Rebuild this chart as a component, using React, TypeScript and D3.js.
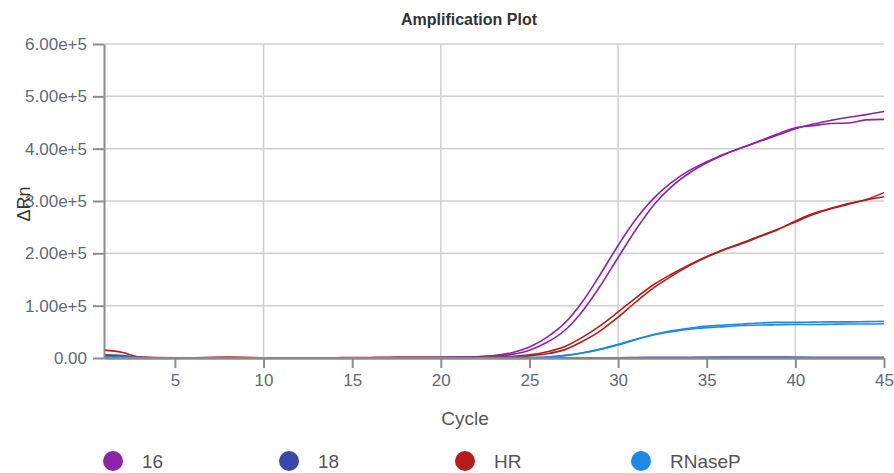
import * as d3 from "d3";
import { useEffect, useRef } from "react";

// cycles on the x axis
const cycles: number[] = [
  1, 2, 3, 4, 5, 6, 7, 8, 9, 10, 11, 12, 13, 14, 15, 16, 17, 18, 19, 20, 21, 22,
  23, 24, 25, 26, 27, 28, 29, 30, 31, 32, 33, 34, 35, 36, 37, 38, 39, 40, 41,
  42, 43, 44, 45,
];

// ΔRn readings, two replicate wells per target
const target16a: number[] = [
  4000, 2500, 800, 500, 400, 400, 300, 300, 300, 400, 400, 500, 500, 500, 600,
  600, 700, 700, 800, 1000, 1500, 2500, 4500, 10000, 21000, 40000, 67000,
  108000, 160000, 215000, 265000, 305000, 335000, 358000, 375000, 390000,
  402000, 414000, 426000, 438000, 447000, 454000, 460000, 465000, 471000,
];
const target16b: number[] = [
  2000, 1500, 600, 400, 300, 300, 300, 300, 400, 400, 400, 400, 500, 500, 500,
  600, 600, 700, 800, 900, 1200, 2000, 3500, 7000, 15000, 30000, 53000, 90000,
  138000, 192000, 245000, 292000, 327000, 353000, 373000, 389000, 402000,
  415000, 428000, 440000, 444000, 448000, 449000, 455000, 456000,
];
const target18a: number[] = [
  5000, 4000, 1000, 600, 500, 500, 400, 400, 500, 500, 600, 600, 600, 500, 500,
  600, 600, 700, 700, 700, 800, 700, 700, 600, 600, 500, 500, 500, 600, 600,
  700, 800, 900, 1000, 1200, 1400, 1500, 1500, 1400, 1200, 1000, 900, 800, 800,
  800,
];
const target18b: number[] = [
  3000, 2500, 800, 500, 400, 400, 400, 300, 400, 400, 500, 500, 500, 400, 400,
  500, 500, 600, 600, 600, 700, 600, 600, 500, 500, 400, 400, 400, 500, 500,
  600, 700, 800, 900, 1000, 1200, 1300, 1300, 1200, 1000, 900, 800, 700, 700,
  700,
];
const hrA: number[] = [
  15000, 11000, 2000, 800, 600, 600, 900, 1500, 800, 500, 500, 600, 600, 600,
  700, 700, 700, 800, 800, 900, 1000, 1200, 1800, 3000, 6000, 12000, 22000,
  40000, 62000, 88000, 115000, 140000, 160000, 178000, 194000, 208000, 220000,
  233000, 246000, 260000, 274000, 285000, 294000, 303000, 316000,
];
const hrB: number[] = [
  6000, 4500, 1200, 600, 500, 500, 700, 1200, 700, 500, 500, 500, 500, 600, 600,
  600, 700, 700, 700, 800, 900, 1000, 1400, 2200, 4000, 8000, 16000, 32000,
  52000, 78000, 107000, 134000, 156000, 176000, 193000, 207000, 219000, 232000,
  245000, 262000, 276000, 286000, 295000, 302000, 308000,
];
const rnasePA: number[] = [
  3000, 2500, 800, 500, 400, 400, 400, 400, 500, 600, 600, 600, 600, 600, 600,
  600, 600, 600, 600, 600, 700, 700, 700, 800, 1000, 2000, 5000, 10000, 17000,
  26000, 36000, 45000, 52000, 57000, 61000, 63000, 65000, 67000, 68000, 68000,
  68500, 69000, 69000, 69500, 70000,
];
const rnasePB: number[] = [
  2000, 1500, 600, 400, 300, 300, 300, 300, 400, 500, 500, 500, 500, 500, 500,
  500, 500, 500, 500, 500, 600, 600, 600, 700, 900, 1800, 4500, 9500, 16500,
  25000, 35000, 44000, 50000, 55000, 58000, 60000, 62000, 63000, 63500, 64000,
  64000, 64500, 65000, 65000, 65500,
];

const targets: string[] = ["16", "18", "HR", "RNaseP"];
const colors: string[] = ["#8e24aa", "#3949ab", "#b71c1c", "#1e88e5"];
const replicates: number[][][] = [
  [target16a, target16b],
  [target18a, target18b],
  [hrA, hrB],
  [rnasePA, rnasePB],
];

const yTicks: number[] = [0, 100000, 200000, 300000, 400000, 500000, 600000];
const xTicks: number[] = [5, 10, 15, 20, 25, 30, 35, 40, 45];
const xGrid: number[] = [10, 20, 30, 40];

export default function App() {
  const width = 894;
  const height = 473;
  const marginTop = 44;
  const marginRight = 10;
  const marginBottom = 115;
  const marginLeft = 104;
  const svgRef = useRef(null);

  useEffect(() => {
    document.body.style.margin = "0";
    const svg = d3.select(svgRef.current);
    svg.selectAll("*").remove();

    const x = d3
      .scaleLinear()
      .domain([1, 45])
      .range([marginLeft, width - marginRight]);
    const y = d3
      .scaleLinear()
      .domain([0, 600000])
      .range([height - marginBottom, marginTop]);

    const font = "'Liberation Sans', Arial, sans-serif";

    // grid
    svg
      .append("g")
      .selectAll("line")
      .data(yTicks.filter((d) => d > 0))
      .join("line")
      .attr("x1", marginLeft)
      .attr("x2", width - marginRight)
      .attr("y1", (d) => y(d))
      .attr("y2", (d) => y(d))
      .attr("stroke", "#d0d0d0")
      .attr("stroke-width", 1.5);
    svg
      .append("g")
      .selectAll("line")
      .data(xGrid)
      .join("line")
      .attr("x1", (d) => x(d))
      .attr("x2", (d) => x(d))
      .attr("y1", y(0))
      .attr("y2", y(600000))
      .attr("stroke", "#d0d0d0")
      .attr("stroke-width", 1.5);

    // curves
    const line = d3
      .line<number>()
      .x((_, i) => x(cycles[i]))
      .y((d) => y(d))
      .curve(d3.curveMonotoneX);

    replicates.forEach((wells, k) => {
      svg
        .append("g")
        .selectAll("path")
        .data(wells)
        .join("path")
        .attr("d", (d) => line(d))
        .attr("fill", "none")
        .attr("stroke", colors[k])
        .attr("stroke-width", 1.6);
    });

    // y axis
    const yAxis = svg
      .append("g")
      .attr("transform", `translate(${marginLeft},0)`)
      .call(
        d3
          .axisLeft(y)
          .tickValues(yTicks)
          .tickSize(11)
          .tickSizeOuter(0)
          .tickPadding(6)
          .tickFormat((d) => (d === 0 ? "0.00" : d3.format(".2e")(d as number)))
      );
    yAxis.select(".domain").attr("stroke", "#8c8c8c").attr("stroke-width", 2);
    yAxis.selectAll(".tick line").attr("stroke", "#8c8c8c").attr("stroke-width", 2);
    yAxis
      .selectAll(".tick text")
      .attr("fill", "#5e6a7a")
      .style("font-family", font)
      .style("font-size", "17px");

    // x axis
    const xAxis = svg
      .append("g")
      .attr("transform", `translate(0,${height - marginBottom})`)
      .call(
        d3
          .axisBottom(x)
          .tickValues(xTicks)
          .tickSize(10)
          .tickSizeOuter(0)
          .tickPadding(6)
      );
    xAxis.select(".domain").attr("stroke", "#8c8c8c").attr("stroke-width", 2.5);
    xAxis.selectAll(".tick line").attr("stroke", "#8c8c8c").attr("stroke-width", 2);
    xAxis
      .selectAll(".tick text")
      .attr("fill", "#5e6a7a")
      .style("font-family", font)
      .style("font-size", "17px");

    // title and labels
    svg
      .append("text")
      .attr("x", 469)
      .attr("y", 25)
      .attr("text-anchor", "middle")
      .attr("fill", "#333")
      .style("font-family", font)
      .style("font-weight", "bold")
      .style("font-size", "16px")
      .text("Amplification Plot");

    svg
      .append("text")
      .attr("x", 465)
      .attr("y", 425)
      .attr("text-anchor", "middle")
      .attr("fill", "#555")
      .style("font-family", font)
      .style("font-size", "19px")
      .text("Cycle");

    svg
      .append("text")
      .attr("transform", "translate(30,204) rotate(-90)")
      .attr("text-anchor", "middle")
      .attr("fill", "#333")
      .style("font-family", font)
      .style("font-size", "18px")
      .text("ΔRn");

    // legend
    const legend = svg
      .append("g")
      .selectAll("g")
      .data(targets)
      .join("g")
      .attr("transform", (_, i) => `translate(${113 + i * 176},461)`);
    legend
      .append("circle")
      .attr("r", 10)
      .attr("fill", (_, i) => colors[i]);
    legend
      .append("text")
      .attr("x", 29)
      .attr("y", 7)
      .attr("fill", "#555")
      .style("font-family", font)
      .style("font-size", "19px")
      .text((d) => d);
  }, []);

  return <svg ref={svgRef} width={width} height={height} style={{ display: "block" }} />;
}
